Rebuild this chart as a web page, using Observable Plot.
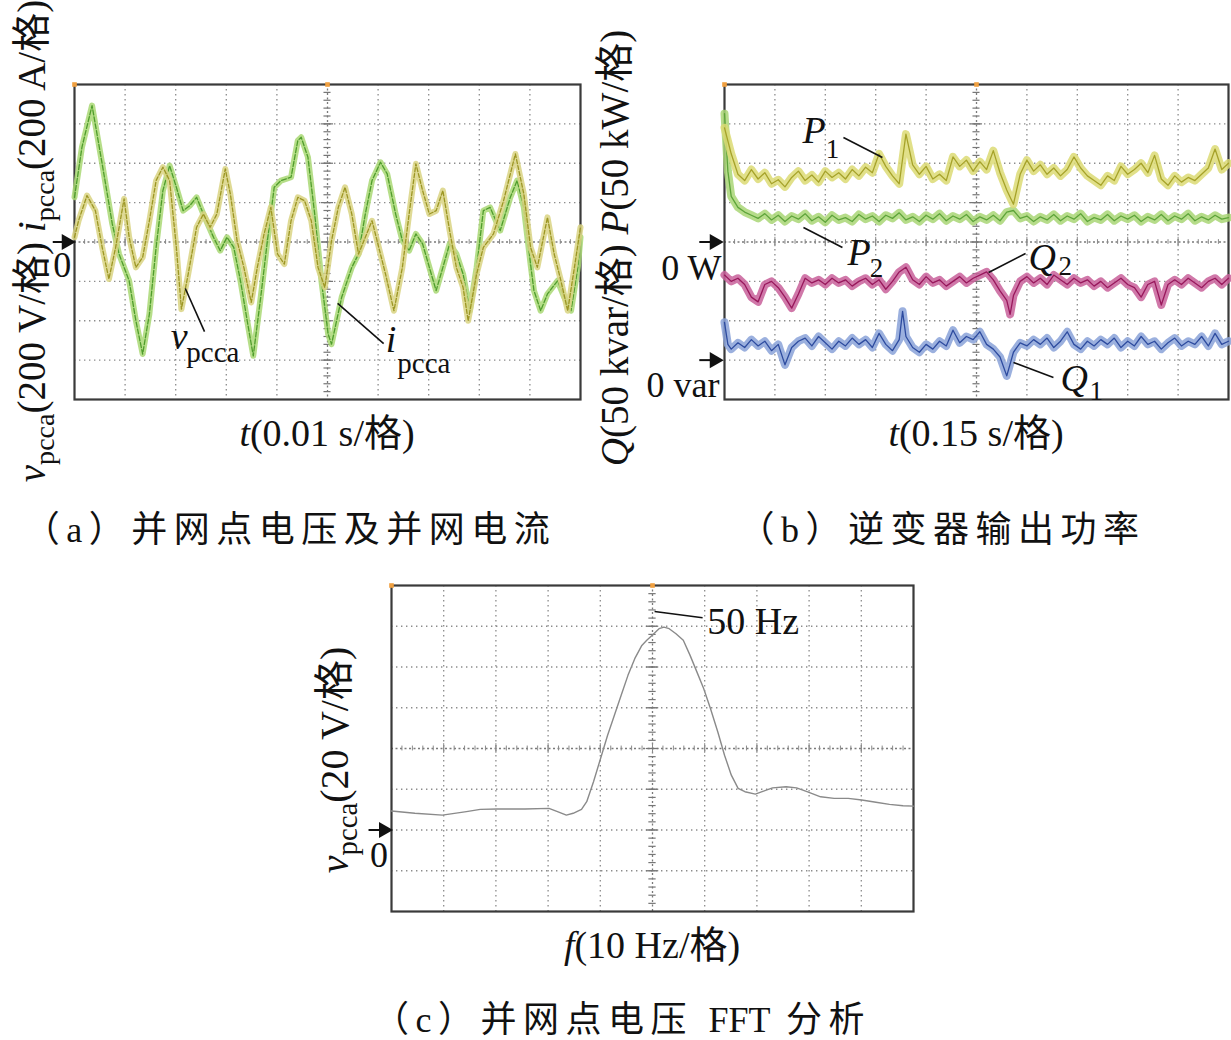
<!DOCTYPE html>
<html><head><meta charset="utf-8">
<script src="https://cdn.jsdelivr.net/npm/d3@7"></script>
<script src="https://cdn.jsdelivr.net/npm/@observablehq/plot@0.6"></script>
<style>
body{margin:0;background:#fff;}
#page{position:relative;width:1231px;height:1040px;overflow:hidden;background:#fff;font-family:"Liberation Serif","Noto Sans CJK SC",serif;color:#111;}
.abs{position:absolute;white-space:nowrap;line-height:1;}
.xl{font-size:38px;transform:translate(-50%,-50%);}
.yl{font-size:39px;transform:translate(-50%,-50%) rotate(-90deg);}
.cap{font-size:36px;letter-spacing:6.5px;transform:translate(-50%,-50%);font-family:"Liberation Serif","Noto Sans CJK SC";}
.sub{font-size:0.72em;position:relative;top:0.32em;}
.lat{letter-spacing:0;}
</style></head>
<body><div id="page">
<div class="abs yl" style="left:31px;top:241px"><i>v</i><span class="sub">pcca</span>(200 V/格) <i>i</i><span class="sub">pcca</span>(200 A/格)</div>
<div class="abs yl" style="left:614px;top:248px"><i>Q</i>(50 kvar/格) <i>P</i>(50 kW/格)</div>
<div class="abs yl" style="left:335px;top:760px;font-size:40px"><i>v</i><span class="sub">pcca</span>(20 V/格)</div>
<div class="abs xl" style="left:327px;top:433px"><i>t</i>(0.01 s/格)</div>
<div class="abs xl" style="left:976px;top:433px"><i>t</i>(0.15 s/格)</div>
<div class="abs xl" style="left:652px;top:945px"><i>f</i>(10 Hz/格)</div>
<div class="abs cap" style="left:290px;top:530px">（a）并网点电压及并网电流</div>
<div class="abs cap" style="left:942px;top:530px">（b）逆变器输出功率</div>
<div class="abs cap" style="left:622px;top:1020px">（c）并网点电压 <span class="lat">FFT</span> 分析</div>
</div>
<script>
// ---------- Data (a): t in ms, v in V, i in A ----------
const vpcca = [[0,24],[0.8,108],[2.47,236],[4.13,159],[5.47,-27],[6.8,-188],[8.13,-27],[9.8,219],[10.8,24],[12.13,-129],
[13.47,-78],[14.8,108],[16.13,312],[17.47,380],[18.8,312],[20.13,-27],[21.13,-341],[22.47,-163],[24.13,75],[25.47,142],
[26.8,75],[28.13,142],[29.8,371],[30.8,244],[32.13,7],[33.47,-129],[34.93,-307],[36.13,-129],[37.47,41],[38.8,176],
[40.13,-61],[41.47,-112],[42.8,108],[44.13,227],[45.47,210],[46.8,108],[48.13,-129],[49.47,-231],[50.8,7],[52.13,176],
[53.47,278],[54.8,142],[56.13,-61],[57.47,24],[58.8,108],[60.13,-27],[61.47,-163],[63.13,-349],[64.8,-129],[66.13,142],
[67.47,397],[68.8,261],[70.13,142],[71.47,159],[72.8,261],[74.13,58],[75.47,-129],[76.8,-231],[77.8,-400],[79.47,-163],
[80.8,-27],[82.8,41],[84.8,210],[87.13,447],[88.8,244],[90.13,-27],[91.47,-129],[93.47,125],[94.8,-61],[96.13,-197],
[97.47,-349],[98.8,-129],[100,75]];
const ipcca = [[0,227],[1.47,481],[3.47,693],[5.47,397],[7.47,92],[8.8,-61],[10.8,-197],[12.13,-400],[13.47,-569],[14.8,-366],
[16.13,-27],[17.47,261],[18.8,388],[20.13,278],[21.47,159],[22.8,185],[24.13,227],[25.47,142],[27.47,24],[28.8,-44],
[30.13,24],[31.47,-27],[32.8,-197],[34.13,-400],[35.33,-578],[36.8,-281],[38.13,7],[39.47,278],[40.8,312],[42.8,329],
[44.13,515],[44.8,532],[46.13,431],[47.47,142],[48.8,-197],[50.13,-468],[50.8,-519],[52.8,-281],[54.8,-129],[56.13,-61],
[57.47,142],[58.8,312],[60.47,405],[61.8,346],[63.47,142],[64.8,7],[66.13,-44],[67.47,41],[68.8,-10],[70.13,-129],
[71.47,-247],[72.8,-129],[74.13,-10],[75.47,-61],[76.8,-163],[78.13,-349],[79.47,-129],[80.8,159],[82.13,176],[84.13,58],
[86.13,227],[87.47,312],[88.8,176],[90.13,-112],[90.8,-247],[92.13,-349],[93.47,-264],[95.47,-197],[96.8,-281],[98.13,-349],
[99.47,-129],[100,24]];

// ---------- Data (b): t in s, P in kW, Q in kvar ----------
const p1 = [[0,145],[.02,112],[.04,86],[.06,78],[.08,92],[.10,80],[.12,88],[.14,74],[.16,79],[.18,70],
[.20,82],[.22,90],[.24,78],[.26,85],[.28,76],[.30,90],[.32,82],[.34,88],[.36,80],[.38,92],
[.40,84],[.42,95],[.44,88],[.46,112],[.48,96],[.50,84],[.52,74],[.54,137],[.56,98],[.58,86],
[.60,96],[.62,80],[.64,86],[.66,78],[.68,108],[.70,96],[.72,104],[.74,90],[.76,102],[.78,92],
[.80,116],[.82,88],[.84,66],[.86,48],[.88,86],[.90,104],[.92,90],[.94,98],[.96,86],[.98,94],
[1.00,84],[1.02,92],[1.04,108],[1.06,94],[1.08,84],[1.10,78],[1.12,72],[1.14,84],[1.16,78],[1.18,96],
[1.20,86],[1.22,92],[1.24,100],[1.26,88],[1.28,110],[1.30,80],[1.32,72],[1.34,84],[1.36,76],[1.38,82],
[1.40,78],[1.42,86],[1.44,94],[1.46,118],[1.48,92],[1.50,100]];
const p2 = [[0,163],[.01,90],[.02,58],[.04,44],[.06,38],[.08,34],[.10,30],[.12,36],[.14,28],[.16,34],[.18,26],[.20,33],
[.22,29],[.24,36],[.26,27],[.28,32],[.30,25],[.32,34],[.34,28],[.36,31],[.38,26],[.40,35],
[.42,29],[.44,33],[.46,26],[.48,34],[.50,30],[.52,37],[.54,28],[.56,32],[.58,26],[.60,34],
[.62,29],[.64,36],[.66,27],[.68,33],[.70,29],[.72,35],[.74,26],[.76,32],[.78,28],[.80,34],
[.82,27],[.84,38],[.86,40],[.88,30],[.90,33],[.92,26],[.94,32],[.96,28],[.98,35],[1.00,27],
[1.02,33],[1.04,29],[1.06,36],[1.08,26],[1.10,31],[1.12,28],[1.14,35],[1.16,27],[1.18,33],[1.20,29],
[1.22,34],[1.24,26],[1.26,32],[1.28,28],[1.30,35],[1.32,27],[1.34,33],[1.36,29],[1.38,36],[1.40,27],
[1.42,32],[1.44,28],[1.46,34],[1.48,29],[1.50,31]];
const q2 = [[0,108],[.02,100],[.04,104],[.06,96],[.08,80],[.10,74],[.12,96],[.14,100],[.16,92],[.18,80],
[.20,66],[.22,84],[.24,104],[.26,98],[.28,102],[.30,96],[.32,104],[.34,98],[.36,102],[.38,94],
[.40,100],[.42,104],[.44,96],[.46,102],[.48,90],[.50,100],[.52,112],[.54,118],[.56,102],[.58,96],
[.60,106],[.62,98],[.64,102],[.66,94],[.68,100],[.70,106],[.72,98],[.74,104],[.76,108],[.78,112],
[.80,102],[.82,88],[.84,76],[.85,58],[.86,82],[.88,100],[.90,106],[.92,98],[.94,104],[.96,96],[.98,108],
[1.00,102],[1.02,96],[1.04,104],[1.06,98],[1.08,102],[1.10,94],[1.12,100],[1.14,92],[1.16,98],[1.18,104],
[1.20,96],[1.22,92],[1.24,80],[1.26,96],[1.28,100],[1.30,70],[1.32,96],[1.34,102],[1.36,96],[1.38,104],
[1.40,98],[1.42,92],[1.44,100],[1.46,104],[1.48,96],[1.50,104]];
const q1 = [[0,48],[.01,20],[.02,14],[.04,22],[.06,16],[.08,26],[.10,18],[.12,24],[.14,12],[.16,20],[.18,-6],
[.20,16],[.22,24],[.24,28],[.26,18],[.28,30],[.30,22],[.32,14],[.34,24],[.36,18],[.38,28],
[.40,20],[.42,26],[.44,16],[.46,34],[.48,20],[.50,12],[.52,26],[.53,62],[.54,30],[.56,16],[.58,10],
[.60,20],[.62,14],[.64,24],[.66,18],[.68,38],[.70,22],[.72,30],[.74,26],[.76,36],[.78,20],
[.80,14],[.82,4],[.84,-20],[.86,10],[.88,22],[.90,18],[.92,26],[.94,20],[.96,28],[.98,16],
[1.00,24],[1.02,36],[1.04,20],[1.06,14],[1.08,24],[1.10,18],[1.12,26],[1.14,20],[1.16,28],[1.18,16],
[1.20,24],[1.22,18],[1.24,30],[1.26,20],[1.28,24],[1.30,14],[1.32,22],[1.34,28],[1.36,18],[1.38,24],
[1.40,20],[1.42,30],[1.44,18],[1.46,34],[1.48,20],[1.50,24]];

// ---------- Data (c): f in Hz, v in V ----------
const fft = [[0,9.3],[4.48,8.2],[9.75,7.3],[14.36,9.0],[17.0,10.1],[20.29,10.3],[25.56,10.3],[30.17,10.6],[31.8,9.0],[33.5,7.3],
[34.8,8.2],[36.4,10.1],[37.4,13.9],[38.7,23.7],[40.05,35.1],[41.4,46.5],[42.7,56.3],[44.0,66.1],[45.3,75.9],[46.6,84.1],
[47.96,90.6],[48.9,93.1],[49.9,95.5],[51.25,98.8],[52.2,99.6],[53.2,98.8],[54.5,96.3],[55.9,93.1],[57.2,85.7],[58.5,77.6],
[59.8,69.4],[61.1,59.6],[62.5,48.2],[63.8,36.7],[65.1,26.9],[66.4,20.4],[67.7,18.8],[69.7,17.6],[71.0,18.8],[73.0,20.7],
[75.6,21.2],[77.6,20.7],[79.6,18.8],[82.2,16.3],[84.8,15.5],[87.5,15.5],[90.1,14.7],[92.8,13.6],[95.4,12.6],[98.0,11.9],[100,11.7]];

// ---------- helpers ----------
const SERIF = "Liberation Serif";
function scopeGrid(x0,x1,y0,y1,cx,cy){
  const dx=(x1-x0)/10, dy=(y1-y0)/8;
  const xs=d3.range(1,10).map(i=>x0+i*dx).filter(v=>Math.abs(v-cx)>dx/100);
  const ys=d3.range(1,8).map(i=>y0+i*dy).filter(v=>Math.abs(v-cy)>dy/100);
  const mx=d3.range(1,50).map(i=>x0+i*dx/5);
  const my=d3.range(1,40).map(i=>y0+i*dy/5);
  const big=d3.range(1,10).map(i=>x0+i*dx), bigy=d3.range(1,8).map(i=>y0+i*dy);
  return [
    Plot.ruleX(xs,{stroke:"#8c8c8c",strokeWidth:1.3,strokeDasharray:"1.4,3.6"}),
    Plot.ruleY(ys,{stroke:"#8c8c8c",strokeWidth:1.3,strokeDasharray:"1.4,3.6"}),
    Plot.ruleX([cx],{stroke:"#7a7a7a",strokeWidth:1.3,strokeDasharray:"2,2.5"}),
    Plot.ruleY([cy],{stroke:"#7a7a7a",strokeWidth:1.3,strokeDasharray:"2,2.5"}),
    Plot.ruleX(mx,{y1:cy-dy*0.06,y2:cy+dy*0.06,stroke:"#8a8a8a",strokeWidth:1}),
    Plot.ruleX(big,{y1:cy-dy*0.12,y2:cy+dy*0.12,stroke:"#8a8a8a",strokeWidth:1}),
    Plot.ruleY(my,{x1:cx-dx*0.07,x2:cx+dx*0.07,stroke:"#777",strokeWidth:1.2}),
    Plot.ruleY(bigy,{x1:cx-dx*0.12,x2:cx+dx*0.12,stroke:"#777",strokeWidth:1.2}),
    Plot.frame({stroke:"#3a3a3a",strokeWidth:2.2}),
    Plot.dot([[x0,y1],[cx,y1]],{x:d=>d[0],y:d=>d[1],symbol:"square",r:2.6,fill:"#f0a040"})
  ];
}
function trace(data,light,dark,opts={}){
  const x=d=>d[0], y=opts.y||(d=>d[1]);
  return [
    Plot.line(data,{x,y,stroke:light,strokeWidth:opts.halo||5,strokeOpacity:0.85,strokeLinejoin:"round"}),
    Plot.line(data,{x,y,stroke:dark,strokeWidth:opts.w||1.3,strokeDasharray:opts.dash||null})
  ];
}
function arrow(xTail,xTip,y){
  return [
    Plot.link([0],{x1:xTail,x2:xTip,y1:y,y2:y,stroke:"#111",strokeWidth:2}),
    Plot.dot([0],{x:xTip,y:y,symbol:"triangle",r:6,fill:"#111",stroke:"none",rotate:90})
  ];
}
function lbl(x,y,text,size,italic,anchor="start"){
  return Plot.text([0],{x:x,y:y,text:[text],fontSize:size,fontFamily:SERIF,fontStyle:italic?"italic":"normal",textAnchor:anchor,fill:"#111",lineAnchor:"middle"});
}
function leader(x1,y1,x2,y2){ return Plot.link([0],{x1,y1,x2,y2,stroke:"#111",strokeWidth:1.6}); }
function place(svg,left,top){ svg.style.position="absolute"; svg.style.left=left+"px"; svg.style.top=top+"px"; svg.style.overflow="visible"; document.getElementById("page").appendChild(svg); }

// ---------- Panel (a) ----------
const plotA = Plot.plot({
  width:540,height:325,marginLeft:30,marginRight:4,marginTop:6,marginBottom:4,
  x:{domain:[0,100],axis:null}, y:{domain:[-800,800],axis:null},
  style:{background:"transparent",overflow:"visible"},
  marks:[
    ...scopeGrid(0,100,-800,800,50,0),
    ...trace(ipcca,"#a9d874","#4f9d2c",{halo:6,dash:"5,2"}),
    ...trace(vpcca,"#d9d483","#9c9624",{halo:6,dash:"4,2"}),
    leader(21.9,-236,25.7,-455), leader(52.0,-312,61.1,-516),
    lbl(19.0,-480,"v",38,true), lbl(22.1,-560,"pcca",29,false),
    lbl(61.5,-495,"i",38,true), lbl(63.8,-620,"pcca",29,false),
    ...arrow(-4.3,-1.6,0), lbl(-2.4,-119,"0",36,false,"middle")
  ]
});
place(plotA,44,78);

// ---------- Panel (b) ----------
const Q_OFFSET = -150; // Q zero drawn 3 divisions below P zero
const plotB = Plot.plot({
  width:607,height:325,marginLeft:100,marginRight:3,marginTop:6,marginBottom:4,
  x:{domain:[0,1.5],axis:null}, y:{domain:[-200,200],axis:null},
  style:{background:"transparent",overflow:"visible"},
  marks:[
    ...scopeGrid(0,1.5,-200,200,0.75,0),
    ...trace(q1,"#8aa2d8","#2d4b9f",{halo:8,y:d=>d[1]+Q_OFFSET}),
    ...trace(q2,"#c8609a","#98185c",{halo:8,y:d=>d[1]+Q_OFFSET}),
    ...trace(p2,"#a9d676","#5ea43a",{halo:8}),
    ...trace(p1,"#dcdb74","#a6a22a",{halo:8}),
    leader(0.354,132.7,0.470,107.3), leader(0.235,18.4,0.351,-7.0),
    leader(0.786,-38.7,0.896,-14.6), leader(0.860,-153,0.979,-172),
    lbl(0.232,141.7,"P",38,true), lbl(0.301,118,"1",27,false),
    lbl(0.366,-13.3,"P",38,true), lbl(0.432,-33,"2",27,false),
    lbl(0.905,-19.7,"Q",38,true), lbl(0.994,-31,"2",27,false),
    lbl(1.0,-173.3,"Q",38,true), lbl(1.086,-190,"1",27,false),
    ...arrow(-0.075,-0.03,0), ...arrow(-0.075,-0.03,Q_OFFSET),
    lbl(-0.009,-33.7,"0 W",36,false,"end"),
    lbl(-0.015,-182,"0 var",36,false,"end")
  ]
});
place(plotB,624,78);

// ---------- Panel (c) ----------
const plotC = Plot.plot({
  width:556,height:336,marginLeft:30,marginRight:4,marginTop:6,marginBottom:4,
  x:{domain:[0,100],axis:null}, y:{domain:[-40,120],axis:null},
  style:{background:"transparent",overflow:"visible"},
  marks:[
    ...scopeGrid(0,100,-40,120,50,40),
    Plot.line(fft,{x:d=>d[0],y:d=>d[1],stroke:"#8a8a8a",strokeWidth:1.4}),
    leader(50.4,107.2,59.6,104.2),
    lbl(60.5,102.3,"50 Hz",38,false),
    ...arrow(-4.4,-1.5,0), lbl(-2.4,-12.5,"0",36,false,"middle")
  ]
});
place(plotC,361,579);
</script>
</body></html>
